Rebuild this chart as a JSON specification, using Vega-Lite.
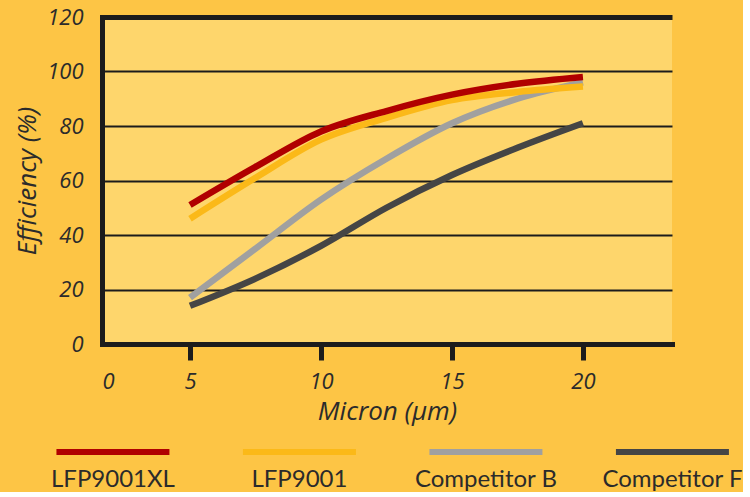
{
  "$schema": "https://vega.github.io/schema/vega-lite/v6.json",
  "background": "#FDC545",
  "padding": {"left": 14, "top": 6, "right": 0, "bottom": 0},
  "bounds": "flush",
  "spacing": 98,
  "config": {
    "view": {"stroke": null},
    "font": "Open Sans",
    "axis": {
      "labelFont": "Open Sans",
      "labelFontStyle": "italic",
      "labelFontSize": 22,
      "labelColor": "#2b2b2b",
      "titleFont": "Open Sans",
      "titleFontStyle": "italic",
      "titleFontWeight": "normal",
      "titleFontSize": 26,
      "titleColor": "#2b2b2b",
      "domainColor": "#1c1c1c",
      "domainWidth": 5,
      "domainCap": "square"
    }
  },
  "datasets": {
    "curves": [
      {"product": "Competitor F", "micron": 5, "efficiency": 14},
      {"product": "Competitor F", "micron": 7.5, "efficiency": 24},
      {"product": "Competitor F", "micron": 10, "efficiency": 36},
      {"product": "Competitor F", "micron": 12.5, "efficiency": 50},
      {"product": "Competitor F", "micron": 15, "efficiency": 62},
      {"product": "Competitor F", "micron": 17.5, "efficiency": 72},
      {"product": "Competitor F", "micron": 20, "efficiency": 81},
      {"product": "Competitor B", "micron": 5, "efficiency": 17},
      {"product": "Competitor B", "micron": 7.5, "efficiency": 35},
      {"product": "Competitor B", "micron": 10, "efficiency": 53},
      {"product": "Competitor B", "micron": 12.5, "efficiency": 68},
      {"product": "Competitor B", "micron": 15, "efficiency": 81},
      {"product": "Competitor B", "micron": 17.5, "efficiency": 90},
      {"product": "Competitor B", "micron": 20, "efficiency": 96},
      {"product": "LFP9001", "micron": 5, "efficiency": 46},
      {"product": "LFP9001", "micron": 7.5, "efficiency": 61},
      {"product": "LFP9001", "micron": 10, "efficiency": 75},
      {"product": "LFP9001", "micron": 12.5, "efficiency": 83},
      {"product": "LFP9001", "micron": 15, "efficiency": 89.5},
      {"product": "LFP9001", "micron": 17.5, "efficiency": 92.5},
      {"product": "LFP9001", "micron": 20, "efficiency": 94.5},
      {"product": "LFP9001XL", "micron": 5, "efficiency": 51},
      {"product": "LFP9001XL", "micron": 7.5, "efficiency": 65},
      {"product": "LFP9001XL", "micron": 10, "efficiency": 78},
      {"product": "LFP9001XL", "micron": 12.5, "efficiency": 85.5},
      {"product": "LFP9001XL", "micron": 15, "efficiency": 91.5},
      {"product": "LFP9001XL", "micron": 17.5, "efficiency": 95.5},
      {"product": "LFP9001XL", "micron": 20, "efficiency": 98}
    ],
    "series": [
      {"product": "LFP9001XL"},
      {"product": "LFP9001"},
      {"product": "Competitor B"},
      {"product": "Competitor F"}
    ]
  },
  "vconcat": [
    {
      "width": 570,
      "height": 327,
      "view": {"fill": "#FED66C", "stroke": null},
      "data": {"name": "curves"},
      "mark": {"type": "line", "interpolate": "monotone", "strokeWidth": 6.5, "strokeCap": "butt"},
      "encoding": {
        "x": {
          "field": "micron",
          "type": "quantitative",
          "title": "Micron (µm)",
          "scale": {"domain": [1.64, 23.4], "nice": false, "zero": false},
          "axis": {
            "values": [1.64, 5, 10, 15, 20],
            "labelExpr": "datum.value < 2 ? '0' : datum.label",
            "grid": false,
            "tickSize": 16,
            "tickWidth": 5,
            "tickColor": "#1c1c1c",
            "tickOpacity": {"condition": {"test": "datum.value < 2", "value": 0}, "value": 1},
            "labelPadding": 11,
            "titlePadding": 6
          }
        },
        "y": {
          "field": "efficiency",
          "type": "quantitative",
          "title": "Efficiency (%)",
          "scale": {"domain": [0, 120], "nice": false},
          "axis": {
            "values": [0, 20, 40, 60, 80, 100, 120],
            "ticks": false,
            "grid": true,
            "gridColor": "#1c1c1c",
            "gridOpacity": 1,
            "gridWidth": {"condition": {"test": "datum.value == 120", "value": 5}, "value": 1.8},
            "labelPadding": 19,
            "titlePadding": 6
          }
        },
        "color": {
          "field": "product",
          "type": "nominal",
          "scale": {
            "domain": ["LFP9001XL", "LFP9001", "Competitor B", "Competitor F"],
            "range": ["#B00000", "#FBB918", "#A0A0A0", "#454545"]
          },
          "legend": null
        }
      }
    },
    {
      "width": 600,
      "height": 20,
      "data": {"name": "series"},
      "encoding": {
        "x": {
          "field": "product",
          "type": "nominal",
          "sort": ["LFP9001XL", "LFP9001", "Competitor B", "Competitor F"],
          "scale": {"type": "point", "padding": 0.1086, "align": 0.27},
          "axis": null
        },
        "color": {
          "field": "product",
          "type": "nominal",
          "scale": {
            "domain": ["LFP9001XL", "LFP9001", "Competitor B", "Competitor F"],
            "range": ["#B00000", "#FBB918", "#A0A0A0", "#454545"]
          },
          "legend": null
        }
      },
      "layer": [
        {"mark": {"type": "tick", "orient": "horizontal", "size": 113, "thickness": 6, "opacity": 1}},
        {
          "mark": {
            "type": "text",
            "dy": 28,
            "baseline": "middle",
            "align": "center",
            "font": "Lato",
            "fontSize": 24,
            "color": "#2b2b2b"
          },
          "encoding": {"text": {"field": "product"}, "color": {"value": "#2b2b2b"}}
        }
      ]
    }
  ]
}
